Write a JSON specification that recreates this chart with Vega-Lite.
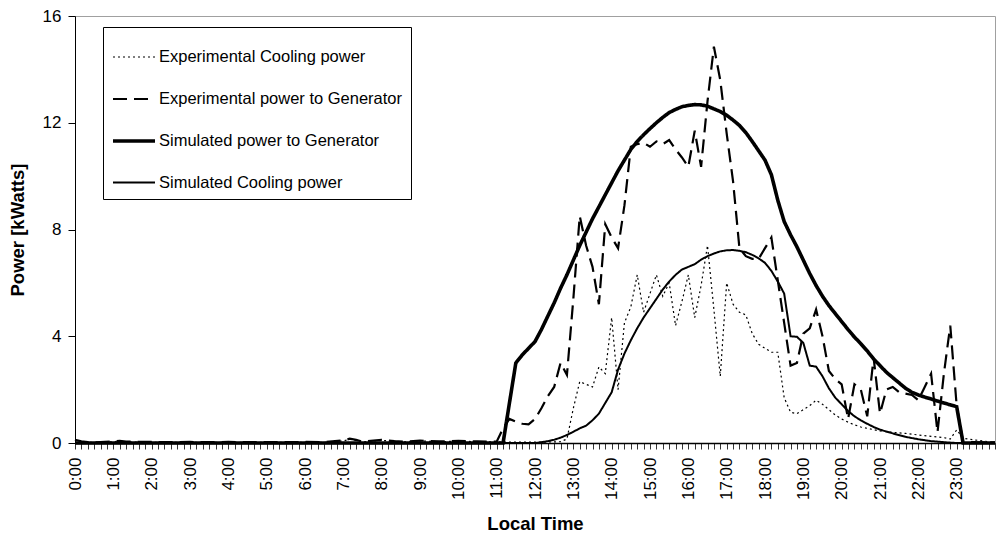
{
  "$schema": "https://vega.github.io/schema/vega-lite/v6.json",
  "autosize": {"type": "none"},
  "padding": {"left": 75, "top": 16, "right": 1, "bottom": 97},
  "width": 920,
  "height": 427,
  "background": "white",
  "config": {"font": "Liberation Sans", "view": {"stroke": "#a0a0a0", "strokeWidth": 1}},
  "data": {"values": [
{"s":"Experimental Cooling power","t":0,"v":0.1},{"s":"Experimental Cooling power","t":0.167,"v":0.05},{"s":"Experimental Cooling power","t":0.333,"v":0.02},{"s":"Experimental Cooling power","t":0.5,"v":0.02},{"s":"Experimental Cooling power","t":1.0,"v":0.05},{"s":"Experimental Cooling power","t":1.167,"v":0.07},{"s":"Experimental Cooling power","t":1.333,"v":0.04},{"s":"Experimental Cooling power","t":2,"v":0.03},{"s":"Experimental Cooling power","t":2.5,"v":0.02},{"s":"Experimental Cooling power","t":3,"v":0.03},{"s":"Experimental Cooling power","t":3.5,"v":0.02},{"s":"Experimental Cooling power","t":4,"v":0.03},{"s":"Experimental Cooling power","t":4.5,"v":0.02},{"s":"Experimental Cooling power","t":5,"v":0.02},{"s":"Experimental Cooling power","t":5.5,"v":0.02},{"s":"Experimental Cooling power","t":6,"v":0.03},{"s":"Experimental Cooling power","t":6.5,"v":0.02},{"s":"Experimental Cooling power","t":7,"v":0.08},{"s":"Experimental Cooling power","t":7.167,"v":0.14},{"s":"Experimental Cooling power","t":7.333,"v":0.1},{"s":"Experimental Cooling power","t":7.5,"v":0.04},{"s":"Experimental Cooling power","t":8,"v":0.1},{"s":"Experimental Cooling power","t":8.333,"v":0.06},{"s":"Experimental Cooling power","t":8.667,"v":0.04},{"s":"Experimental Cooling power","t":9,"v":0.08},{"s":"Experimental Cooling power","t":9.5,"v":0.05},{"s":"Experimental Cooling power","t":10,"v":0.07},{"s":"Experimental Cooling power","t":10.5,"v":0.05},{"s":"Experimental Cooling power","t":11,"v":0.04},{"s":"Experimental Cooling power","t":11.5,"v":0.03},{"s":"Experimental Cooling power","t":12,"v":0.03},{"s":"Experimental Cooling power","t":12.5,"v":0.04},{"s":"Experimental Cooling power","t":12.667,"v":0.05},{"s":"Experimental Cooling power","t":12.833,"v":0.15},{"s":"Experimental Cooling power","t":13.0,"v":1.3},{"s":"Experimental Cooling power","t":13.167,"v":2.3},{"s":"Experimental Cooling power","t":13.333,"v":2.2},{"s":"Experimental Cooling power","t":13.5,"v":2.1},{"s":"Experimental Cooling power","t":13.667,"v":2.85},{"s":"Experimental Cooling power","t":13.833,"v":2.6},{"s":"Experimental Cooling power","t":14.0,"v":4.7},{"s":"Experimental Cooling power","t":14.167,"v":2.0},{"s":"Experimental Cooling power","t":14.333,"v":4.5},{"s":"Experimental Cooling power","t":14.5,"v":5.1},{"s":"Experimental Cooling power","t":14.667,"v":6.3},{"s":"Experimental Cooling power","t":14.833,"v":4.9},{"s":"Experimental Cooling power","t":15.0,"v":5.6},{"s":"Experimental Cooling power","t":15.167,"v":6.3},{"s":"Experimental Cooling power","t":15.333,"v":5.5},{"s":"Experimental Cooling power","t":15.5,"v":6.0},{"s":"Experimental Cooling power","t":15.667,"v":4.4},{"s":"Experimental Cooling power","t":15.833,"v":5.3},{"s":"Experimental Cooling power","t":16.0,"v":6.3},{"s":"Experimental Cooling power","t":16.167,"v":4.7},{"s":"Experimental Cooling power","t":16.333,"v":5.9},{"s":"Experimental Cooling power","t":16.5,"v":7.4},{"s":"Experimental Cooling power","t":16.667,"v":5.0},{"s":"Experimental Cooling power","t":16.833,"v":2.5},{"s":"Experimental Cooling power","t":17.0,"v":6.0},{"s":"Experimental Cooling power","t":17.167,"v":5.2},{"s":"Experimental Cooling power","t":17.333,"v":4.9},{"s":"Experimental Cooling power","t":17.5,"v":4.8},{"s":"Experimental Cooling power","t":17.667,"v":4.1},{"s":"Experimental Cooling power","t":17.833,"v":3.7},{"s":"Experimental Cooling power","t":18.0,"v":3.55},{"s":"Experimental Cooling power","t":18.167,"v":3.4},{"s":"Experimental Cooling power","t":18.333,"v":3.4},{"s":"Experimental Cooling power","t":18.5,"v":1.7},{"s":"Experimental Cooling power","t":18.667,"v":1.15},{"s":"Experimental Cooling power","t":18.833,"v":1.1},{"s":"Experimental Cooling power","t":19.0,"v":1.25},{"s":"Experimental Cooling power","t":19.167,"v":1.4},{"s":"Experimental Cooling power","t":19.333,"v":1.6},{"s":"Experimental Cooling power","t":19.5,"v":1.45},{"s":"Experimental Cooling power","t":19.667,"v":1.25},{"s":"Experimental Cooling power","t":19.833,"v":1.05},{"s":"Experimental Cooling power","t":20.0,"v":0.9},{"s":"Experimental Cooling power","t":20.167,"v":0.78},{"s":"Experimental Cooling power","t":20.333,"v":0.68},{"s":"Experimental Cooling power","t":20.5,"v":0.6},{"s":"Experimental Cooling power","t":20.667,"v":0.55},{"s":"Experimental Cooling power","t":20.833,"v":0.5},{"s":"Experimental Cooling power","t":21.0,"v":0.45},{"s":"Experimental Cooling power","t":21.333,"v":0.4},{"s":"Experimental Cooling power","t":21.667,"v":0.36},{"s":"Experimental Cooling power","t":22.0,"v":0.3},{"s":"Experimental Cooling power","t":22.333,"v":0.25},{"s":"Experimental Cooling power","t":22.667,"v":0.2},{"s":"Experimental Cooling power","t":22.833,"v":0.15},{"s":"Experimental Cooling power","t":23.0,"v":0.49},{"s":"Experimental Cooling power","t":23.167,"v":0.18},{"s":"Experimental Cooling power","t":23.5,"v":0.11},{"s":"Experimental Cooling power","t":23.833,"v":0.05},{"s":"Experimental Cooling power","t":24.0,"v":0.03},
{"s":"Experimental power to Generator","t":0,"v":0.12},{"s":"Experimental power to Generator","t":0.167,"v":0.06},{"s":"Experimental power to Generator","t":0.333,"v":0.03},{"s":"Experimental power to Generator","t":0.5,"v":0.02},{"s":"Experimental power to Generator","t":1.0,"v":0.06},{"s":"Experimental power to Generator","t":1.167,"v":0.08},{"s":"Experimental power to Generator","t":1.333,"v":0.05},{"s":"Experimental power to Generator","t":2,"v":0.04},{"s":"Experimental power to Generator","t":2.5,"v":0.03},{"s":"Experimental power to Generator","t":3,"v":0.04},{"s":"Experimental power to Generator","t":3.5,"v":0.03},{"s":"Experimental power to Generator","t":4,"v":0.04},{"s":"Experimental power to Generator","t":4.5,"v":0.03},{"s":"Experimental power to Generator","t":5,"v":0.03},{"s":"Experimental power to Generator","t":5.5,"v":0.03},{"s":"Experimental power to Generator","t":6,"v":0.04},{"s":"Experimental power to Generator","t":6.5,"v":0.03},{"s":"Experimental power to Generator","t":7,"v":0.1},{"s":"Experimental power to Generator","t":7.167,"v":0.16},{"s":"Experimental power to Generator","t":7.333,"v":0.12},{"s":"Experimental power to Generator","t":7.5,"v":0.05},{"s":"Experimental power to Generator","t":8,"v":0.12},{"s":"Experimental power to Generator","t":8.333,"v":0.07},{"s":"Experimental power to Generator","t":8.667,"v":0.05},{"s":"Experimental power to Generator","t":9,"v":0.09},{"s":"Experimental power to Generator","t":9.5,"v":0.06},{"s":"Experimental power to Generator","t":10,"v":0.08},{"s":"Experimental power to Generator","t":10.5,"v":0.06},{"s":"Experimental power to Generator","t":11.0,"v":0.05},{"s":"Experimental power to Generator","t":11.167,"v":0.55},{"s":"Experimental power to Generator","t":11.333,"v":0.9},{"s":"Experimental power to Generator","t":11.5,"v":0.8},{"s":"Experimental power to Generator","t":11.667,"v":0.72},{"s":"Experimental power to Generator","t":11.833,"v":0.7},{"s":"Experimental power to Generator","t":12.0,"v":0.9},{"s":"Experimental power to Generator","t":12.167,"v":1.3},{"s":"Experimental power to Generator","t":12.333,"v":1.75},{"s":"Experimental power to Generator","t":12.5,"v":2.1},{"s":"Experimental power to Generator","t":12.667,"v":3.0},{"s":"Experimental power to Generator","t":12.833,"v":2.55},{"s":"Experimental power to Generator","t":13.0,"v":5.4},{"s":"Experimental power to Generator","t":13.167,"v":8.5},{"s":"Experimental power to Generator","t":13.333,"v":7.4},{"s":"Experimental power to Generator","t":13.5,"v":6.6},{"s":"Experimental power to Generator","t":13.667,"v":5.2},{"s":"Experimental power to Generator","t":13.833,"v":8.2},{"s":"Experimental power to Generator","t":14.0,"v":7.7},{"s":"Experimental power to Generator","t":14.167,"v":7.3},{"s":"Experimental power to Generator","t":14.333,"v":8.9},{"s":"Experimental power to Generator","t":14.5,"v":11.1},{"s":"Experimental power to Generator","t":14.667,"v":11.2},{"s":"Experimental power to Generator","t":14.833,"v":11.25},{"s":"Experimental power to Generator","t":15.0,"v":11.1},{"s":"Experimental power to Generator","t":15.167,"v":11.3},{"s":"Experimental power to Generator","t":15.333,"v":11.2},{"s":"Experimental power to Generator","t":15.5,"v":11.35},{"s":"Experimental power to Generator","t":15.667,"v":11.0},{"s":"Experimental power to Generator","t":15.833,"v":10.7},{"s":"Experimental power to Generator","t":16.0,"v":10.35},{"s":"Experimental power to Generator","t":16.167,"v":11.7},{"s":"Experimental power to Generator","t":16.333,"v":10.35},{"s":"Experimental power to Generator","t":16.5,"v":12.8},{"s":"Experimental power to Generator","t":16.667,"v":14.85},{"s":"Experimental power to Generator","t":16.833,"v":13.6},{"s":"Experimental power to Generator","t":17.0,"v":11.6},{"s":"Experimental power to Generator","t":17.167,"v":9.8},{"s":"Experimental power to Generator","t":17.333,"v":7.3},{"s":"Experimental power to Generator","t":17.5,"v":7.0},{"s":"Experimental power to Generator","t":17.667,"v":6.9},{"s":"Experimental power to Generator","t":17.833,"v":6.9},{"s":"Experimental power to Generator","t":18.0,"v":7.3},{"s":"Experimental power to Generator","t":18.167,"v":7.7},{"s":"Experimental power to Generator","t":18.333,"v":6.1},{"s":"Experimental power to Generator","t":18.5,"v":4.5},{"s":"Experimental power to Generator","t":18.667,"v":2.9},{"s":"Experimental power to Generator","t":18.833,"v":3.0},{"s":"Experimental power to Generator","t":19.0,"v":4.1},{"s":"Experimental power to Generator","t":19.167,"v":4.3},{"s":"Experimental power to Generator","t":19.333,"v":5.0},{"s":"Experimental power to Generator","t":19.5,"v":4.0},{"s":"Experimental power to Generator","t":19.667,"v":2.7},{"s":"Experimental power to Generator","t":19.833,"v":2.4},{"s":"Experimental power to Generator","t":20.0,"v":2.2},{"s":"Experimental power to Generator","t":20.167,"v":0.9},{"s":"Experimental power to Generator","t":20.333,"v":2.2},{"s":"Experimental power to Generator","t":20.5,"v":2.0},{"s":"Experimental power to Generator","t":20.667,"v":1.0},{"s":"Experimental power to Generator","t":20.833,"v":3.2},{"s":"Experimental power to Generator","t":21.0,"v":1.1},{"s":"Experimental power to Generator","t":21.167,"v":2.0},{"s":"Experimental power to Generator","t":21.333,"v":2.1},{"s":"Experimental power to Generator","t":21.5,"v":1.9},{"s":"Experimental power to Generator","t":21.667,"v":1.85},{"s":"Experimental power to Generator","t":21.833,"v":1.8},{"s":"Experimental power to Generator","t":22.0,"v":1.6},{"s":"Experimental power to Generator","t":22.167,"v":2.1},{"s":"Experimental power to Generator","t":22.333,"v":2.6},{"s":"Experimental power to Generator","t":22.5,"v":0.4},{"s":"Experimental power to Generator","t":22.667,"v":2.6},{"s":"Experimental power to Generator","t":22.833,"v":4.4},{"s":"Experimental power to Generator","t":23.0,"v":1.4},{"s":"Experimental power to Generator","t":23.167,"v":0.05},{"s":"Experimental power to Generator","t":23.5,"v":0.03},{"s":"Experimental power to Generator","t":24.0,"v":0.02},
{"s":"Simulated power to Generator","t":0,"v":0},{"s":"Simulated power to Generator","t":11.167,"v":0},{"s":"Simulated power to Generator","t":11.5,"v":3.0},{"s":"Simulated power to Generator","t":11.667,"v":3.3},{"s":"Simulated power to Generator","t":11.833,"v":3.55},{"s":"Simulated power to Generator","t":12.0,"v":3.8},{"s":"Simulated power to Generator","t":12.167,"v":4.25},{"s":"Simulated power to Generator","t":12.333,"v":4.75},{"s":"Simulated power to Generator","t":12.5,"v":5.25},{"s":"Simulated power to Generator","t":12.667,"v":5.8},{"s":"Simulated power to Generator","t":12.833,"v":6.3},{"s":"Simulated power to Generator","t":13.0,"v":6.85},{"s":"Simulated power to Generator","t":13.167,"v":7.4},{"s":"Simulated power to Generator","t":13.333,"v":7.9},{"s":"Simulated power to Generator","t":13.5,"v":8.4},{"s":"Simulated power to Generator","t":13.667,"v":8.85},{"s":"Simulated power to Generator","t":13.833,"v":9.3},{"s":"Simulated power to Generator","t":14.0,"v":9.75},{"s":"Simulated power to Generator","t":14.167,"v":10.2},{"s":"Simulated power to Generator","t":14.333,"v":10.6},{"s":"Simulated power to Generator","t":14.5,"v":11.0},{"s":"Simulated power to Generator","t":14.667,"v":11.3},{"s":"Simulated power to Generator","t":14.833,"v":11.55},{"s":"Simulated power to Generator","t":15.0,"v":11.78},{"s":"Simulated power to Generator","t":15.167,"v":12.0},{"s":"Simulated power to Generator","t":15.333,"v":12.2},{"s":"Simulated power to Generator","t":15.5,"v":12.38},{"s":"Simulated power to Generator","t":15.667,"v":12.5},{"s":"Simulated power to Generator","t":15.833,"v":12.6},{"s":"Simulated power to Generator","t":16.0,"v":12.65},{"s":"Simulated power to Generator","t":16.167,"v":12.68},{"s":"Simulated power to Generator","t":16.333,"v":12.67},{"s":"Simulated power to Generator","t":16.5,"v":12.62},{"s":"Simulated power to Generator","t":16.667,"v":12.52},{"s":"Simulated power to Generator","t":16.833,"v":12.42},{"s":"Simulated power to Generator","t":17.0,"v":12.28},{"s":"Simulated power to Generator","t":17.167,"v":12.1},{"s":"Simulated power to Generator","t":17.333,"v":11.9},{"s":"Simulated power to Generator","t":17.5,"v":11.63},{"s":"Simulated power to Generator","t":17.667,"v":11.3},{"s":"Simulated power to Generator","t":17.833,"v":10.95},{"s":"Simulated power to Generator","t":18.0,"v":10.6},{"s":"Simulated power to Generator","t":18.167,"v":10.05},{"s":"Simulated power to Generator","t":18.333,"v":9.1},{"s":"Simulated power to Generator","t":18.5,"v":8.3},{"s":"Simulated power to Generator","t":18.667,"v":7.8},{"s":"Simulated power to Generator","t":18.833,"v":7.35},{"s":"Simulated power to Generator","t":19.0,"v":6.85},{"s":"Simulated power to Generator","t":19.167,"v":6.35},{"s":"Simulated power to Generator","t":19.333,"v":5.9},{"s":"Simulated power to Generator","t":19.5,"v":5.5},{"s":"Simulated power to Generator","t":19.667,"v":5.15},{"s":"Simulated power to Generator","t":19.833,"v":4.85},{"s":"Simulated power to Generator","t":20.0,"v":4.55},{"s":"Simulated power to Generator","t":20.167,"v":4.25},{"s":"Simulated power to Generator","t":20.333,"v":3.97},{"s":"Simulated power to Generator","t":20.5,"v":3.72},{"s":"Simulated power to Generator","t":20.667,"v":3.45},{"s":"Simulated power to Generator","t":20.833,"v":3.15},{"s":"Simulated power to Generator","t":21.0,"v":2.9},{"s":"Simulated power to Generator","t":21.167,"v":2.65},{"s":"Simulated power to Generator","t":21.333,"v":2.45},{"s":"Simulated power to Generator","t":21.5,"v":2.25},{"s":"Simulated power to Generator","t":21.667,"v":2.05},{"s":"Simulated power to Generator","t":21.833,"v":1.9},{"s":"Simulated power to Generator","t":22.0,"v":1.8},{"s":"Simulated power to Generator","t":22.167,"v":1.72},{"s":"Simulated power to Generator","t":22.333,"v":1.65},{"s":"Simulated power to Generator","t":22.5,"v":1.57},{"s":"Simulated power to Generator","t":22.667,"v":1.5},{"s":"Simulated power to Generator","t":22.833,"v":1.43},{"s":"Simulated power to Generator","t":23.0,"v":1.36},{"s":"Simulated power to Generator","t":23.167,"v":0},{"s":"Simulated power to Generator","t":24.0,"v":0},
{"s":"Simulated Cooling power","t":0,"v":0},{"s":"Simulated Cooling power","t":12.0,"v":0},{"s":"Simulated Cooling power","t":12.167,"v":0.03},{"s":"Simulated Cooling power","t":12.333,"v":0.07},{"s":"Simulated Cooling power","t":12.5,"v":0.12},{"s":"Simulated Cooling power","t":12.667,"v":0.2},{"s":"Simulated Cooling power","t":12.833,"v":0.3},{"s":"Simulated Cooling power","t":13.0,"v":0.42},{"s":"Simulated Cooling power","t":13.167,"v":0.55},{"s":"Simulated Cooling power","t":13.333,"v":0.65},{"s":"Simulated Cooling power","t":13.5,"v":0.85},{"s":"Simulated Cooling power","t":13.667,"v":1.1},{"s":"Simulated Cooling power","t":13.833,"v":1.5},{"s":"Simulated Cooling power","t":14.0,"v":1.9},{"s":"Simulated Cooling power","t":14.167,"v":2.75},{"s":"Simulated Cooling power","t":14.333,"v":3.35},{"s":"Simulated Cooling power","t":14.5,"v":3.85},{"s":"Simulated Cooling power","t":14.667,"v":4.3},{"s":"Simulated Cooling power","t":14.833,"v":4.7},{"s":"Simulated Cooling power","t":15.0,"v":5.05},{"s":"Simulated Cooling power","t":15.167,"v":5.4},{"s":"Simulated Cooling power","t":15.333,"v":5.75},{"s":"Simulated Cooling power","t":15.5,"v":6.05},{"s":"Simulated Cooling power","t":15.667,"v":6.3},{"s":"Simulated Cooling power","t":15.833,"v":6.5},{"s":"Simulated Cooling power","t":16.0,"v":6.6},{"s":"Simulated Cooling power","t":16.167,"v":6.7},{"s":"Simulated Cooling power","t":16.333,"v":6.87},{"s":"Simulated Cooling power","t":16.5,"v":7.0},{"s":"Simulated Cooling power","t":16.667,"v":7.1},{"s":"Simulated Cooling power","t":16.833,"v":7.18},{"s":"Simulated Cooling power","t":17.0,"v":7.22},{"s":"Simulated Cooling power","t":17.167,"v":7.23},{"s":"Simulated Cooling power","t":17.333,"v":7.2},{"s":"Simulated Cooling power","t":17.5,"v":7.15},{"s":"Simulated Cooling power","t":17.667,"v":7.05},{"s":"Simulated Cooling power","t":17.833,"v":6.92},{"s":"Simulated Cooling power","t":18.0,"v":6.75},{"s":"Simulated Cooling power","t":18.167,"v":6.45},{"s":"Simulated Cooling power","t":18.333,"v":6.05},{"s":"Simulated Cooling power","t":18.5,"v":5.6},{"s":"Simulated Cooling power","t":18.667,"v":4.0},{"s":"Simulated Cooling power","t":18.833,"v":3.98},{"s":"Simulated Cooling power","t":19.0,"v":3.75},{"s":"Simulated Cooling power","t":19.167,"v":2.9},{"s":"Simulated Cooling power","t":19.333,"v":2.86},{"s":"Simulated Cooling power","t":19.5,"v":2.5},{"s":"Simulated Cooling power","t":19.667,"v":2.05},{"s":"Simulated Cooling power","t":19.833,"v":1.7},{"s":"Simulated Cooling power","t":20.0,"v":1.45},{"s":"Simulated Cooling power","t":20.167,"v":1.2},{"s":"Simulated Cooling power","t":20.333,"v":1.0},{"s":"Simulated Cooling power","t":20.5,"v":0.85},{"s":"Simulated Cooling power","t":20.667,"v":0.72},{"s":"Simulated Cooling power","t":20.833,"v":0.6},{"s":"Simulated Cooling power","t":21.0,"v":0.5},{"s":"Simulated Cooling power","t":21.333,"v":0.36},{"s":"Simulated Cooling power","t":21.667,"v":0.23},{"s":"Simulated Cooling power","t":22.0,"v":0.14},{"s":"Simulated Cooling power","t":22.333,"v":0.07},{"s":"Simulated Cooling power","t":22.667,"v":0.03},{"s":"Simulated Cooling power","t":23.0,"v":0},{"s":"Simulated Cooling power","t":24.0,"v":0}
  ]},
  "mark": {"type": "line", "color": "black", "strokeCap": "butt"},
  "encoding": {
    "x": {"field": "t", "type": "quantitative",
      "scale": {"domain": [0, 24], "nice": false, "zero": false},
      "axis": {
        "title": "Local Time", "titleFontWeight": "bold", "titleFontSize": 18.5, "titleColor": "black",
        "titleX": 460, "titleY": 86, "titleAlign": "center", "titleBaseline": "alphabetic",
        "values": [0,0.1667,0.3333,0.5,0.6667,0.8333,1,1.1667,1.3333,1.5,1.6667,1.8333,2,2.1667,2.3333,2.5,2.6667,2.8333,3,3.1667,3.3333,3.5,3.6667,3.8333,4,4.1667,4.3333,4.5,4.6667,4.8333,5,5.1667,5.3333,5.5,5.6667,5.8333,6,6.1667,6.3333,6.5,6.6667,6.8333,7,7.1667,7.3333,7.5,7.6667,7.8333,8,8.1667,8.3333,8.5,8.6667,8.8333,9,9.1667,9.3333,9.5,9.6667,9.8333,10,10.1667,10.3333,10.5,10.6667,10.8333,11,11.1667,11.3333,11.5,11.6667,11.8333,12,12.1667,12.3333,12.5,12.6667,12.8333,13,13.1667,13.3333,13.5,13.6667,13.8333,14,14.1667,14.3333,14.5,14.6667,14.8333,15,15.1667,15.3333,15.5,15.6667,15.8333,16,16.1667,16.3333,16.5,16.6667,16.8333,17,17.1667,17.3333,17.5,17.6667,17.8333,18,18.1667,18.3333,18.5,18.6667,18.8333,19,19.1667,19.3333,19.5,19.6667,19.8333,20,20.1667,20.3333,20.5,20.6667,20.8333,21,21.1667,21.3333,21.5,21.6667,21.8333,22,22.1667,22.3333,22.5,22.6667,22.8333,23,23.1667,23.3333,23.5,23.6667,23.8333,24],
        "labelExpr": "abs(datum.value - round(datum.value)) < 0.01 && datum.value < 23.5 ? round(datum.value) + ':00' : ''",
        "labelAngle": -90, "labelFontSize": 17, "labelColor": "black", "labelPadding": 8,
        "labelOverlap": false, "labelFlush": false, "labelBound": false,
        "tickSize": 6, "tickColor": "#333", "domainColor": "black", "domainWidth": 1.5, "grid": false
      }
    },
    "y": {"field": "v", "type": "quantitative",
      "scale": {"domain": [0, 16], "nice": false},
      "axis": {
        "title": "Power [kWatts]", "titleFontWeight": "bold", "titleFontSize": 18.5, "titleColor": "black",
        "titleX": -58, "titleY": 213.5, "titleAlign": "center", "titleBaseline": "middle", "titleAngle": 270,
        "values": [0, 4, 8, 12, 16], "labelFontSize": 17, "labelColor": "black", "labelPadding": 7,
        "labelFlush": false, "tickSize": 7, "tickColor": "black", "domainColor": "black", "grid": false
      }
    },
    "strokeDash": {"field": "s", "type": "nominal",
      "scale": {"domain": ["Experimental Cooling power", "Experimental power to Generator", "Simulated power to Generator", "Simulated Cooling power"],
                "range": [[2, 3], [14, 7], [1, 0], [1, 0]]},
      "legend": {"title": null, "orient": "none", "legendX": 28, "legendY": 11, "symbolType": "stroke", "symbolSize": 1764,
                 "symbolStrokeColor": "black", "labelFontSize": 16.5, "labelColor": "black", "labelOffset": 2,
                 "strokeColor": "black", "fillColor": "white", "padding": 8, "rowPadding": 10.5, "labelLimit": 400}
    },
    "strokeWidth": {"field": "s", "type": "nominal",
      "scale": {"type": "ordinal", "domain": ["Experimental Cooling power", "Experimental power to Generator", "Simulated power to Generator", "Simulated Cooling power"],
                "range": [1.2, 2.2, 3.6, 2]},
      "legend": {"title": null, "orient": "none", "legendX": 28, "legendY": 11, "symbolType": "stroke", "symbolSize": 1764,
                 "symbolStrokeColor": "black", "labelFontSize": 16.5, "labelColor": "black", "labelOffset": 2,
                 "strokeColor": "black", "fillColor": "white", "padding": 8, "rowPadding": 10.5, "labelLimit": 400}
    }
  }
}
